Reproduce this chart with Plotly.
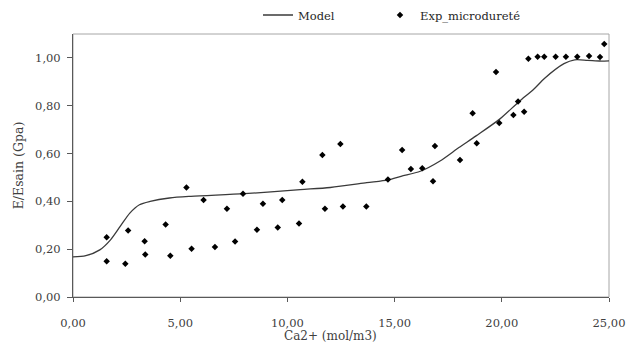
import plotly.graph_objects as go

# Model curve
model_x = [0, 0.6, 1.25, 1.75, 2.2, 2.65, 3.1, 3.6, 4.5, 5.5, 8.0, 10.6, 12.0, 13.7, 14.7,
           15.3, 16.2, 17.1, 18.0, 18.8, 19.9, 20.8, 21.5, 22.0, 22.9, 23.4, 24.0, 24.6, 25.0]
model_y = [0.168, 0.173, 0.197, 0.239, 0.295, 0.351, 0.386, 0.400, 0.414, 0.421, 0.432, 0.449,
           0.458, 0.478, 0.490, 0.505, 0.526, 0.568, 0.625, 0.674, 0.744, 0.817, 0.870, 0.915,
           0.976, 0.992, 0.990, 0.987, 0.988]

# Experimental points
exp_x = [1.57, 1.57, 2.44, 2.57, 3.34, 3.37, 4.32, 4.54, 5.29, 5.53, 6.09, 6.62, 7.18, 7.56,
         7.93, 8.58, 8.86, 9.55, 9.76, 10.54, 10.70, 11.63, 11.75, 12.47, 12.59, 13.68, 14.69,
         15.35, 15.76, 16.29, 16.79, 16.88, 18.05, 18.64, 18.83, 19.73, 19.88, 20.54, 20.76,
         21.04, 21.24, 21.67, 21.98, 22.51, 22.99, 23.52, 24.07, 24.58, 24.78]
exp_y = [0.250, 0.150, 0.139, 0.278, 0.233, 0.178, 0.303, 0.173, 0.458, 0.202, 0.406, 0.209,
         0.369, 0.232, 0.432, 0.281, 0.390, 0.291, 0.406, 0.307, 0.482, 0.594, 0.369, 0.640,
         0.378, 0.378, 0.491, 0.615, 0.535, 0.539, 0.484, 0.632, 0.573, 0.769, 0.643, 0.941,
         0.728, 0.761, 0.818, 0.775, 0.997, 1.005, 1.005, 1.005, 1.005, 1.005, 1.008, 1.004,
         1.058]

x_ticks = [0, 5, 10, 15, 20, 25]
y_ticks = [0, 0.2, 0.4, 0.6, 0.8, 1.0]

FONT = "DejaVu Serif"
FS = 11.5

fig = go.Figure()
fig.add_trace(go.Scatter(x=model_x, y=model_y, mode="lines", name="Model", legend="legend",
                         line=dict(color="#3a3a3a", width=1.3, shape="spline", smoothing=0.8)))
fig.add_trace(go.Scatter(x=exp_x, y=exp_y, mode="markers", name="Exp_microdureté",
                         legend="legend2",
                         marker=dict(symbol="diamond", size=5, color="black")))

leg_common = dict(orientation="h", xref="container", yref="container",
                  xanchor="left", y=1 - 15 / 343, yanchor="middle",
                  font=dict(family=FONT, size=FS, color="#262626"),
                  itemwidth=30, bgcolor="rgba(0,0,0,0)")

fig.update_layout(
    width=626, height=343,
    margin=dict(l=73, r=17, t=34, b=46),
    paper_bgcolor="white", plot_bgcolor="white",
    separators=", ",
    font=dict(family=FONT, size=FS, color="#404040"),
    showlegend=True,
    legend=dict(x=258 / 626, **leg_common),
    legend2=dict(x=380 / 626, **leg_common),
    xaxis=dict(range=[0, 25], tickvals=x_ticks, tickformat=".2f", showgrid=False,
               zeroline=False, showline=True, linecolor="#595959", linewidth=1,
               ticks="outside", ticklen=4, tickcolor="#595959", ticklabelstandoff=11,
               automargin=False,
               tickfont=dict(family=FONT, size=FS, color="#404040")),
    yaxis=dict(range=[0, 1.1], tickvals=y_ticks, tickformat=".2f", showgrid=False,
               zeroline=False, showline=True, linecolor="#595959", linewidth=1,
               ticks="outside", ticklen=5, tickcolor="#595959", ticklabelstandoff=4,
               automargin=False,
               tickfont=dict(family=FONT, size=FS, color="#404040"),
               title=dict(text="E/Esain (Gpa)", standoff=8,
                          font=dict(family=FONT, size=12.5, color="#404040"))),
    annotations=[dict(text="Ca2+ (mol/m3)", xref="paper", yref="paper",
                      x=(330 - 73) / 536, y=-(336 - 296.7) / 262.7,
                      xanchor="center", yanchor="middle", showarrow=False,
                      font=dict(family=FONT, size=12, color="#404040"))],
    shapes=[dict(type="rect", xref="paper", yref="paper", x0=0, y0=0, x1=1, y1=1,
                 line=dict(color="#a6a6a6", width=1), layer="below")],
)

fig.write_html("out.html")
